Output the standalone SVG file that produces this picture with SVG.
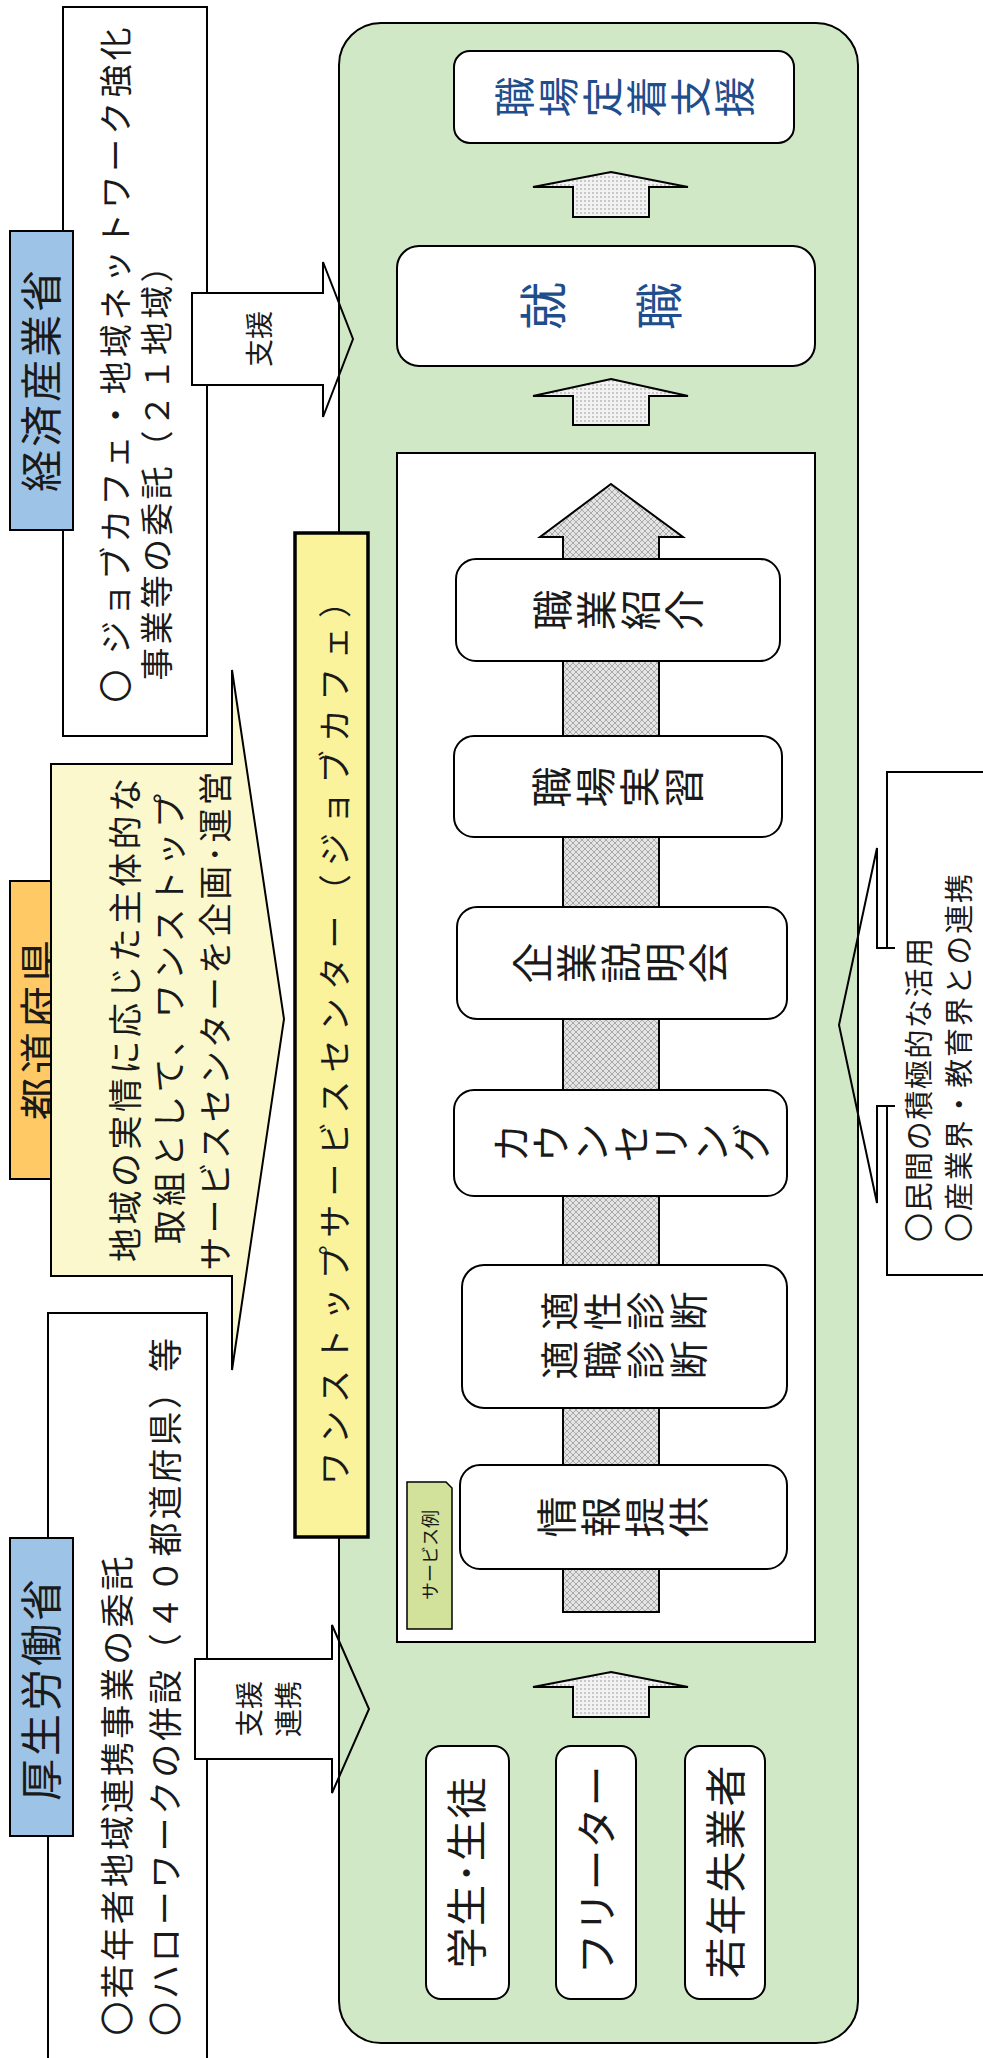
<svg xmlns="http://www.w3.org/2000/svg" width="983" height="2058" viewBox="0 0 983 2058">
<defs>
<pattern id="dots" width="4" height="4" patternUnits="userSpaceOnUse"><rect width="4" height="4" fill="#f2f2f2"/><circle cx="1" cy="1" r="0.75" fill="#8a8a8a"/></pattern>
<pattern id="hatch" width="6" height="6" patternUnits="userSpaceOnUse"><rect width="6" height="6" fill="#e4e4e4"/><path d="M0,0 L6,6 M6,0 L0,6" stroke="#9a9a9a" stroke-width="0.8"/></pattern>
<style>
.t{font-family:"Noto Sans CJK JP","Noto Sans",sans-serif;fill:#1a1a1a}
.r{text-anchor:middle;dominant-baseline:central}
.v{writing-mode:vertical-rl;text-anchor:middle}
.wb{fill:#fff;stroke:#000;stroke-width:2}
.sb{fill:#fff;stroke:#000;stroke-width:2}
.ol{fill:none;stroke:#000;stroke-width:2;stroke-linejoin:miter}
.blue{fill:#1f4e8c}
</style>
</defs>
<rect width="983" height="2058" fill="#fff"/>

<g id="meti-box"><rect class="wb" x="63" y="7" width="144" height="729"/>
<text class="t r" font-size="33" transform="translate(114,365) rotate(-90)" textLength="675" lengthAdjust="spacing">〇 ジョブカフェ・地域ネットワーク強化</text>
<text class="t r" font-size="33" transform="translate(155,465) rotate(-90)" textLength="431" lengthAdjust="spacing">事業等の委託（２１地域）</text>
</g>
<g id="mhlw-box"><rect class="wb" x="48" y="1313" width="159" height="770"/>
<text class="t r" font-size="34" transform="translate(115,1796) rotate(-90)" textLength="479" lengthAdjust="spacing">〇若年者地域連携事業の委託</text>
<text class="t r" font-size="34" transform="translate(163,1687) rotate(-90)" textLength="698" lengthAdjust="spacing">〇ハローワークの併設（４０都道府県）等</text>
</g>
<g id="partner-box"><path d="M887,948 V772 H990 V1275 H887 V1106" fill="#fff" stroke="#000" stroke-width="2"/>
<text class="t r" font-size="29" transform="translate(917,1090) rotate(-90)" textLength="304" lengthAdjust="spacing">〇民間の積極的な活用</text>
<text class="t r" font-size="29" transform="translate(957,1058) rotate(-90)" textLength="368" lengthAdjust="spacing">〇産業界・教育界との連携</text>
</g>

<g id="arrow-fills">
<polygon points="192,293 323,293 323,262 353,339 323,417 323,385 192,385" fill="#fff"/>
<polygon points="195,1659 332,1659 332,1625 369,1709 332,1793 332,1759 195,1759" fill="#fff"/>
<polygon points="895,948 877,948 877,848 839,1025 877,1203 877,1106 895,1106" fill="#fff"/>
</g>

<g id="one-stop-frame"><rect x="339" y="23" width="519" height="2020" rx="42" fill="#d0e8c6" stroke="#000" stroke-width="2"/></g>

<g id="connectors">
<polygon class="ol" points="192,293 323,293 323,262 353,339 323,417 323,385 192,385"/>
<polygon class="ol" points="195,1659 332,1659 332,1625 369,1709 332,1793 332,1759 195,1759"/>
<path class="ol" d="M895,948 H877 V848 L839,1025 L877,1203 V1106 H895"/>
<polygon points="611,172 688,187 649,187 649,217 573,217 573,187 533,187" fill="url(#dots)" stroke="#000" stroke-width="2"/>
<polygon points="611,379 688,396 649,396 649,425 573,425 573,396 533,396" fill="url(#dots)" stroke="#000" stroke-width="2"/>
<polygon points="611,1672 688,1687 649,1687 649,1717 573,1717 573,1687 533,1687" fill="url(#dots)" stroke="#000" stroke-width="2"/>
</g>
<g id="meti-arrow-label"><text class="t r" font-size="28" transform="translate(258,339) rotate(-90)">支援</text></g>
<g id="mhlw-arrow-label">
<text class="t r" font-size="28" transform="translate(248,1709) rotate(-90)">支援</text>
<text class="t r" font-size="28" transform="translate(287,1709) rotate(-90)">連携</text>
</g>

<g id="meti"><rect x="10" y="231" width="63" height="299" fill="#9dc3e6" stroke="#000" stroke-width="2"/>
<text class="t r" font-size="42" transform="translate(38,381) rotate(-90)" textLength="222" lengthAdjust="spacing">経済産業省</text></g>

<g id="prefecture"><rect x="10" y="881" width="63" height="298" fill="#ffc966" stroke="#000" stroke-width="2"/>
<text class="t r" font-size="42" transform="translate(37,1030) rotate(-90)" textLength="180" lengthAdjust="spacing">都道府県</text></g>

<g id="prefecture-arrow"><polygon points="51,764 232,764 232,670 284,1019 232,1370 232,1276 51,1276" fill="#fcf8cd" stroke="#000" stroke-width="2"/>
<text class="t r" font-size="34" transform="translate(123,1020) rotate(-90)" textLength="484" lengthAdjust="spacing">地域の実情に応じた主体的な</text>
<text class="t r" font-size="34" transform="translate(167,1019) rotate(-90)" textLength="450" lengthAdjust="spacing">取組として、ワンストップ</text>
<text class="t r" font-size="34" transform="translate(213,1021) rotate(-90)" textLength="499" lengthAdjust="spacing">サービスセンターを企画･運営</text>
</g>

<g id="mhlw"><rect x="10" y="1538" width="63" height="298" fill="#9dc3e6" stroke="#000" stroke-width="2"/>
<text class="t r" font-size="42" transform="translate(38,1690) rotate(-90)" textLength="222" lengthAdjust="spacing">厚生労働省</text></g>

<g id="jobcafe"><rect x="295" y="533" width="73" height="1004" fill="#faf39b" stroke="#000" stroke-width="3.5"/>
<text class="t r" font-size="33" transform="translate(333,1035) rotate(-90)" textLength="900" lengthAdjust="spacing">ワンストップサービスセンター（ジョブカフェ）</text></g>

<g id="retention"><rect class="sb" x="454" y="51" width="340" height="92" rx="16"/>
<text class="t v blue" font-size="41" letter-spacing="3" transform="translate(626,97) rotate(-90)">職場定着支援</text></g>

<g id="employment"><rect class="sb" x="397" y="246" width="418" height="120" rx="22"/>
<text class="t v blue" font-size="48" letter-spacing="10" transform="translate(606,306) rotate(-90)">就　職</text></g>

<g id="services"><rect x="397" y="453" width="418" height="1189" fill="#fff" stroke="#000" stroke-width="2"/>
<polygon points="611,484 683,537 659,537 659,1612 563,1612 563,537 540,537" fill="url(#hatch)" stroke="#000" stroke-width="2"/>
</g>

<g id="s-placement"><rect class="sb" x="456" y="559" width="324" height="102" rx="20"/>
<text class="t v" font-size="41" letter-spacing="3" transform="translate(620,610) rotate(-90)">職業紹介</text></g>
<g id="s-internship"><rect class="sb" x="454" y="736" width="328" height="101" rx="20"/>
<text class="t v" font-size="41" letter-spacing="3" transform="translate(619,787) rotate(-90)">職場実習</text></g>
<g id="s-briefing"><rect class="sb" x="457" y="907" width="330" height="112" rx="20"/>
<text class="t v" font-size="41" letter-spacing="3" transform="translate(622,963) rotate(-90)">企業説明会</text></g>
<g id="s-counseling"><rect class="sb" x="454" y="1090" width="333" height="106" rx="20"/>
<text class="t v" font-size="40" transform="translate(631,1143) rotate(-90)">カウンセリング</text></g>
<g id="s-diagnosis"><rect class="sb" x="462" y="1265" width="325" height="143" rx="22"/>
<text class="t v" font-size="39" letter-spacing="4" transform="translate(626,1311) rotate(-90)">適性診断</text>
<text class="t v" font-size="39" letter-spacing="4" transform="translate(626,1360) rotate(-90)">適職診断</text></g>
<g id="s-info"><rect class="sb" x="460" y="1465" width="327" height="104" rx="20"/>
<text class="t v" font-size="41" letter-spacing="3" transform="translate(624,1517) rotate(-90)">情報提供</text></g>

<g id="service-example"><polygon points="407,1482 446,1482 452,1488 452,1629 407,1629" fill="#d3e29b" stroke="#000" stroke-width="1.5"/>
<text class="t r" font-size="18" transform="translate(429,1555) rotate(-90)">サービス例</text></g>

<g id="students"><rect class="sb" x="426" y="1746" width="83" height="253" rx="15"/>
<text class="t r" font-size="41" transform="translate(464,1873) rotate(-90)" textLength="191" lengthAdjust="spacing">学生･生徒</text></g>
<g id="freeter"><rect class="sb" x="556" y="1746" width="80" height="253" rx="15"/>
<text class="t r" font-size="41" transform="translate(594,1870) rotate(-90)" textLength="209" lengthAdjust="spacing">フリーター</text></g>
<g id="unemployed"><rect class="sb" x="685" y="1746" width="80" height="253" rx="15"/>
<text class="t r" font-size="41" transform="translate(723,1872) rotate(-90)" textLength="213" lengthAdjust="spacing">若年失業者</text></g>
</svg>
